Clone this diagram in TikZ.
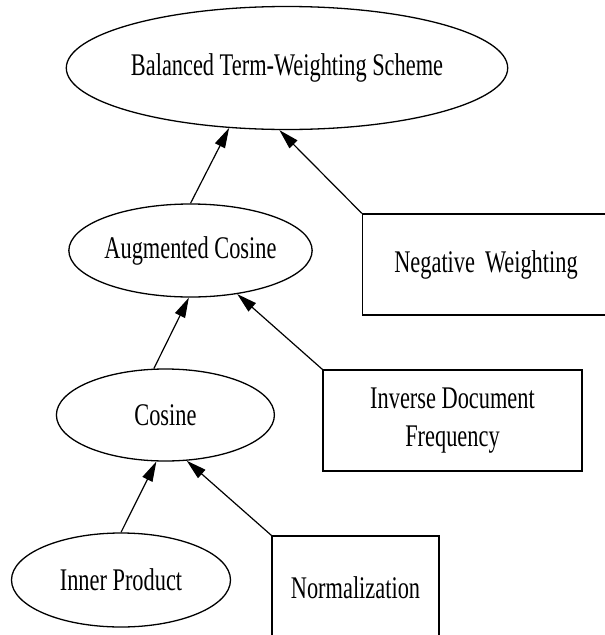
\documentclass[tikz,border=0pt]{standalone}
\usepackage{fontspec}
\setmainfont[FakeStretch=0.71]{Liberation Serif}
\usetikzlibrary{arrows.meta,shapes.geometric}
\begin{document}
\begin{tikzpicture}[x=1pt,y=-1pt,
  every node/.style={font=\fontsize{31.5}{38}\selectfont, line width=1.3pt, inner sep=0pt},
  ell/.style={draw, ellipse},
  boxnode/.style={draw, rectangle, align=center},
  arr/.style={line width=1.2pt, -{Triangle[length=20pt,width=11pt]}}]
\useasboundingbox (0,0) rectangle (605,635);
\node[ell, minimum width=387pt, minimum height=123pt] (top) at (287,68) {Balanced Term-Weighting Scheme};
\node[ell, minimum width=219pt, minimum height=93pt] (aug) at (190.5,250.5) {Augmented Cosine};
\node[ell, minimum width=218pt, minimum height=92pt] (cos) at (165.4,415) {Cosine};
\node[ell, minimum width=219pt, minimum height=94pt] (inner) at (121,580) {Inner Product};
\node[boxnode, minimum width=247pt, minimum height=101pt] (nw) at (486,264.5) {Negative\hspace{10pt}Weighting};
\node[boxnode, minimum width=259pt, minimum height=101pt] (idf) at (452.5,420.5) {Inverse Document\\Frequency};
\node[boxnode, minimum width=167pt, minimum height=104pt] (norm) at (355.5,588) {Normalization};
\draw[arr] (aug.north) -- (top.226);
\draw[arr] (nw.north west) -- (top.263);
\draw[arr] (cos.104) -- (aug.268);
\draw[arr] (idf.north west) -- (aug.317);
\draw[arr] (inner.north) -- (cos.259);
\draw[arr] (norm.north west) -- (cos.295);
\end{tikzpicture}
\end{document}
